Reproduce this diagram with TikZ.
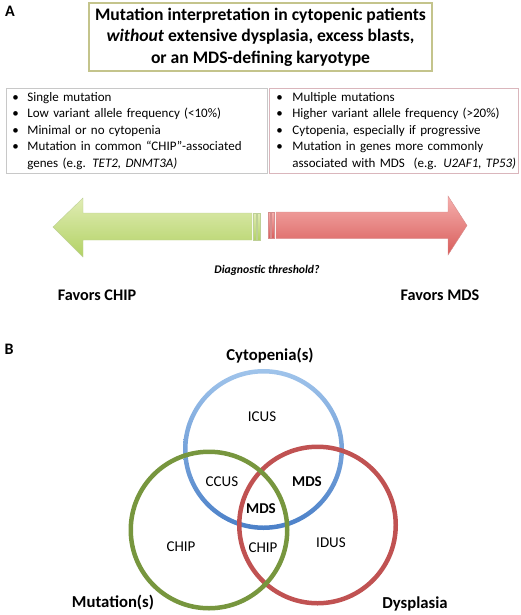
\documentclass[tikz,border=0pt]{standalone}
\usepackage{fontspec}
\setmainfont{Carlito}

\definecolor{titleedge}{RGB}{196,196,140}
\definecolor{chipedge}{RGB}{200,200,200}
\definecolor{mdsedge}{RGB}{218,182,188}
\definecolor{greenlight}{RGB}{224,236,180}
\definecolor{greendark}{RGB}{178,210,100}
\definecolor{greenline}{RGB}{190,208,150}
\definecolor{redlight}{RGB}{246,176,174}
\definecolor{reddark}{RGB}{216,92,90}
\definecolor{redline}{RGB}{214,140,140}
\definecolor{cytolight}{RGB}{160,196,235}
\definecolor{cytodark}{RGB}{75,128,200}
\definecolor{mutring}{RGB}{119,150,62}
\definecolor{dysring}{RGB}{192,82,82}

\begin{document}
\begin{tikzpicture}[x=1pt, y=-1pt]
\tikzset{titlebox/.style={draw=titleedge, line width=1.2pt, minimum width=343pt, minimum height=68pt, align=center, inner sep=2pt, font=\fontsize{17.6}{21.5}\selectfont\bfseries},
  listbox/.style={line width=0.8pt, minimum height=85pt, align=left, inner sep=4pt, anchor=north west, font=\fontsize{13}{16.4}\selectfont},
  panel/.style={font=\fontsize{16}{16}\selectfont\bfseries},
  favors/.style={font=\fontsize{16.2}{16.2}\selectfont\bfseries},
  region/.style={font=\fontsize{15}{15}\selectfont},
  regionbold/.style={font=\fontsize{15}{15}\selectfont\bfseries},
  setname/.style={font=\fontsize{16.7}{16.7}\selectfont\bfseries},
  ring/.style={even odd rule}}
\useasboundingbox (0,0) rectangle (520,615);

\node[panel] (pa) at (10,11) {A};
\node[titlebox] (title) at (260.5,37) {Mutation interpretation in cytopenic patients\\
  \textit{without} extensive dysplasia, excess blasts,\\
  or an MDS-defining karyotype};

\node[listbox, draw=chipedge, text width=253pt] (chiplist) at (6,88) {\makebox[17pt][l]{\hspace{2pt}\textbullet}Single mutation\\
  \makebox[17pt][l]{\hspace{2pt}\textbullet}Low variant allele frequency (<10\%)\\
  \makebox[17pt][l]{\hspace{2pt}\textbullet}Minimal or no cytopenia\\
  \makebox[17pt][l]{\hspace{2pt}\textbullet}\mbox{Mutation in common “CHIP”-associated}\\
  \hspace*{17pt}genes (e.g. \textit{TET2, DNMT3A)}};
\node[listbox, draw=mdsedge, text width=241pt] (mdslist) at (269,88) {\makebox[19pt][l]{\hspace{3pt}\textbullet}Multiple mutations\\
  \makebox[19pt][l]{\hspace{3pt}\textbullet}\mbox{Higher variant allele frequency (>20\%)}\\
  \makebox[19pt][l]{\hspace{3pt}\textbullet}Cytopenia, especially if progressive\\
  \makebox[19pt][l]{\hspace{3pt}\textbullet}Mutation in genes more commonly\\
  \hspace*{19pt}\mbox{associated with MDS\ \ (e.g. \textit{U2AF1, TP53)}}};

\shade[top color=greenlight, bottom color=greendark, draw=greenline] (53,227) -- (83,198) -- (83,213) -- (252,213) -- (252,240) -- (83,240) -- (83,257) -- cycle;
\shade[top color=greenlight, bottom color=greendark, draw=greenline] (253.5,213) rectangle (256,240);
\shade[top color=greenlight, bottom color=greendark, draw=greenline] (257.5,213) rectangle (260,240);
\shade[top color=redlight, bottom color=reddark, draw=redline] (268,212) rectangle (270,238.5);
\shade[top color=redlight, bottom color=reddark, draw=redline] (271.5,212) rectangle (274,238.5);
\shade[top color=redlight, bottom color=reddark, draw=redline] (276,212) -- (448,212) -- (448,196) -- (467,225.5) -- (448,255) -- (448,238.5) -- (276,238.5) -- cycle;

\node (threshold) at (267,270) {\fontsize{11.7}{11.7}\selectfont\bfseries\itshape Diagnostic threshold?};
\node[favors] (favchip) at (97,295) {Favors CHIP};
\node[favors] (favmds) at (440,295) {Favors MDS};

\node[panel] (pb) at (9,349) {B};
\shade[ring, top color=cytolight, bottom color=cytodark] (263.5,449.5) circle (80.5) circle (76);
\fill[ring, dysring] (317.5,525) circle (80.5) circle (76);
\fill[ring, mutring] (209,530) circle (80.5) circle (76);

\node[setname] (cyto) at (270,356) {Cytopenia(s)};
\node[setname] (mut) at (113,603) {Mutation(s)};
\node[setname] (dys) at (415,604) {Dysplasia};
\node[region] (icus) at (262,417) {ICUS};
\node[region] (ccus) at (222,482) {CCUS};
\node[regionbold] (mdsright) at (307,482) {MDS};
\node[regionbold] (mdscore) at (261,509) {MDS};
\node[region] (chipleft) at (181,547) {CHIP};
\node[region] (chipmid) at (263,548) {CHIP};
\node[region] (idus) at (331,543) {IDUS};
\end{tikzpicture}
\end{document}
